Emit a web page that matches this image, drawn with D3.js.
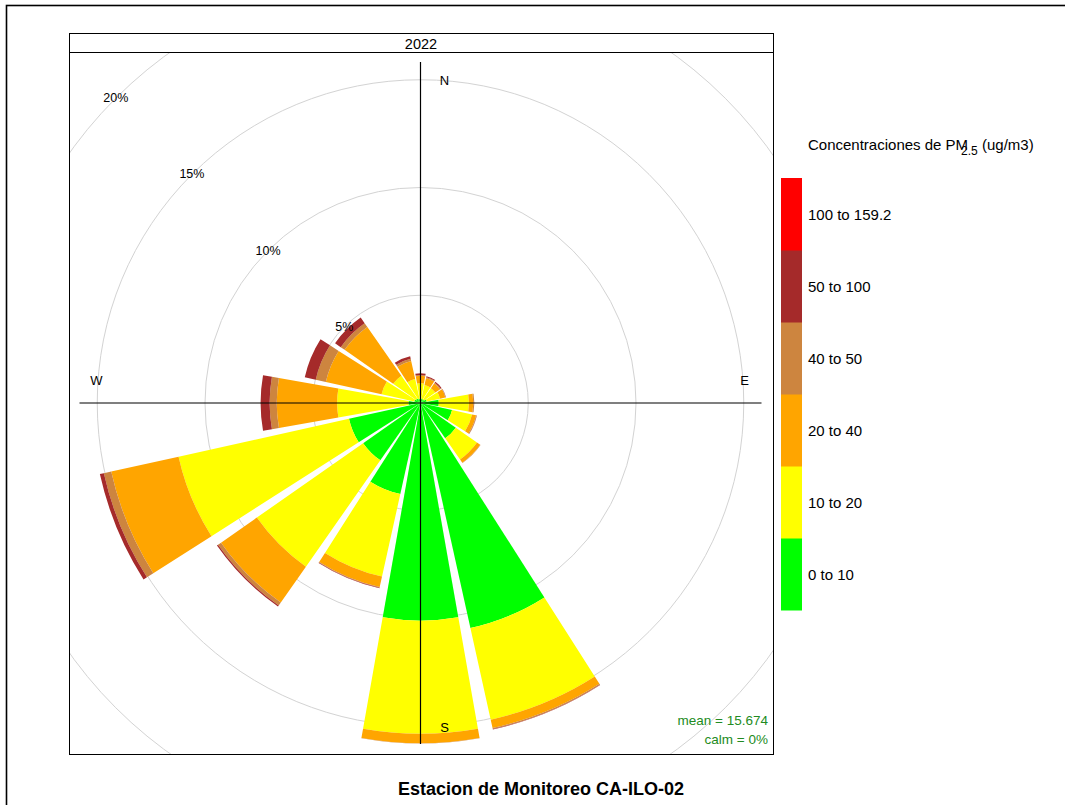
<!DOCTYPE html>
<html><head><meta charset="utf-8">
<script src="https://cdn.jsdelivr.net/npm/d3@7"></script>
<style>
body{margin:0;background:#fff}
svg{display:block;font-family:"Liberation Sans",Arial,Helvetica,sans-serif}
</style>
</head><body>
<svg id="chart" width="1065" height="805"></svg>
<script>
// ---- data ----
const directions = ["N","NNE","NE","ENE","E","ESE","SE","SSE","S","SSW","SW","WSW","W","WNW","NW","NNW"];
const dirAngles = [0,22.5,45,67.5,90,112.5,135,157.5,180,202.5,225,247.5,270,292.5,315,337.5];
const binLabels = ["0 to 10","10 to 20","20 to 40","40 to 50","50 to 100","100 to 159.2"];
const binColors = ["#00FF00","#FFFF00","#FFA500","#CD853F","#A52A2A","#FF0000"];
// frequency (%) of each concentration bin per direction
const bin0to10   = [0.17,0.20,0.20,0.30,0.85,1.50,2.00,10.70,10.10,4.33,3.25,3.40,0.56,0.30,0.25,0.20];
const bin10to20  = [0.75,0.65,0.64,0.63,1.40,0.95,1.20, 4.35, 5.25,3.92,6.02,8.10,3.31,1.55,1.30,0.94];
const bin20to40  = [0.34,0.33,0.26,0.25,0.20,0.19,0.18, 0.40, 0.44,0.50,2.03,3.20,2.80,2.65,2.75,0.86];
const bin40to50  = [0.04,0.04,0.05,0.02,0.05,0.03,0.02, 0.05, 0.01,0.03,0.17,0.35,0.33,0.48,0.22,0.10];
const bin50to100 = [0.08,0.05,0.05,0.01,0.00,0.01,0.00, 0.02, 0.00,0.02,0.06,0.19,0.42,0.52,0.32,0.12];
const bin100to159= [0,0,0,0,0,0,0,0,0,0,0,0,0,0,0,0];
const gridPct = [5,10,15,20];
const compass = [{t:"N",a:0},{t:"E",a:90},{t:"S",a:180},{t:"W",a:270}];
const stripLabel = "2022";
const meanText = "mean = 15.674";
const calmText = "calm = 0%";
const titleText = "Estacion de Monitoreo CA-ILO-02";

// ---- layout ----
const svg = d3.select("#chart");
const cx = 420.5, cy = 403;
const panel = {x:69, y:52, w:704, h:702, stripTop:33};
const r = d3.scaleLinear().domain([0,20]).range([0,431]);
const rad = d => d*Math.PI/180;

// outer frame
svg.append("rect").attr("x",6.5).attr("y",5.5).attr("width",1200).attr("height",1000)
  .attr("fill","none").attr("stroke","#000").attr("stroke-width",1.6);

svg.append("defs").append("clipPath").attr("id","clip")
  .append("rect").attr("x",panel.x).attr("y",panel.y).attr("width",panel.w).attr("height",panel.h);

const g = svg.append("g").attr("clip-path","url(#clip)");
const c = g.append("g").attr("transform",`translate(${cx},${cy})`);

// grid circles
c.selectAll("circle.grid").data(gridPct).join("circle")
  .attr("r",d=>r(d)).attr("fill","none").attr("stroke","#d3d3d3").attr("stroke-width",1);

// stacked wedges
const bins = [bin0to10,bin10to20,bin20to40,bin40to50,bin50to100,bin100to159];
const arc = d3.arc();
const wedges = [];
directions.forEach((d,i)=>{
  let cum = 0;
  bins.forEach((b,j)=>{
    const v = b[i];
    if (v>0) wedges.push({a:dirAngles[i], r0:cum, r1:cum+v, color:binColors[j]});
    cum += v;
  });
});
c.selectAll("path.w").data(wedges).join("path")
  .attr("d",d=>arc({innerRadius:r(d.r0),outerRadius:r(d.r1),startAngle:rad(d.a-10),endAngle:rad(d.a+10)}))
  .attr("fill",d=>d.color);

// axis lines
const axLen = 341;
c.append("line").attr("x1",0).attr("x2",0).attr("y1",-axLen).attr("y2",axLen).attr("stroke","#000").attr("stroke-width",1.2);
c.append("line").attr("y1",0).attr("y2",0).attr("x1",-axLen).attr("x2",axLen).attr("stroke","#000").attr("stroke-width",1.2);

// percentage labels along 315 deg
c.selectAll("text.pct").data(gridPct).join("text")
  .attr("x",d=>r(d)*Math.sin(rad(315))).attr("y",d=>-r(d)*Math.cos(rad(315)))
  .attr("text-anchor","middle").attr("dominant-baseline","central")
  .attr("font-size",12.5).text(d=>d+"%");

// compass labels
const compPos = {N:[24,-323],E:[324,-23],S:[24,324],W:[-324,-23]};
c.selectAll("text.cmp").data(compass).join("text")
  .attr("x",d=>compPos[d.t][0]).attr("y",d=>compPos[d.t][1])
  .attr("text-anchor","middle").attr("dominant-baseline","central")
  .attr("font-size",13).text(d=>d.t);

// mean/calm
svg.append("text").attr("x",768).attr("y",725).attr("text-anchor","end").attr("font-size",13.5)
  .attr("fill","#228B22").text(meanText);
svg.append("text").attr("x",768).attr("y",744).attr("text-anchor","end").attr("font-size",13.5)
  .attr("fill","#228B22").text(calmText);

// panel border & strip
svg.append("rect").attr("x",panel.x+0.5).attr("y",panel.stripTop+0.5).attr("width",panel.w).attr("height",panel.y+panel.h-panel.stripTop)
  .attr("fill","none").attr("stroke","#000").attr("stroke-width",1);
svg.append("line").attr("x1",panel.x).attr("x2",panel.x+panel.w).attr("y1",panel.y+0.5).attr("y2",panel.y+0.5)
  .attr("stroke","#000").attr("stroke-width",1);
svg.append("text").attr("x",panel.x+panel.w/2).attr("y",(panel.stripTop+panel.y)/2+1).attr("text-anchor","middle")
  .attr("dominant-baseline","central").attr("font-size",14.5).text(stripLabel);

// legend
const legTitle = svg.append("text").attr("x",808).attr("y",150).attr("font-size",15);
legTitle.append("tspan").text("Concentraciones de PM");
legTitle.append("tspan").attr("dx",-7).attr("dy",5).attr("font-size",12).text("2.5");
legTitle.append("tspan").attr("dy",-5).text(" (ug/m3)");

const ly = d3.scaleBand().domain(d3.range(binLabels.length).reverse()).range([178,610]);
svg.selectAll("rect.leg").data(d3.range(binLabels.length)).join("rect")
  .attr("x",781).attr("y",d=>ly(d)).attr("width",21).attr("height",ly.bandwidth()+0.5)
  .attr("fill",d=>binColors[d]);
svg.selectAll("text.leg").data(d3.range(binLabels.length)).join("text")
  .attr("x",808).attr("y",d=>ly(d)+ly.bandwidth()/2).attr("dominant-baseline","central")
  .attr("font-size",15).text(d=>binLabels[d]);

// title
svg.append("text").attr("x",541).attr("y",795).attr("text-anchor","middle").attr("font-size",18)
  .attr("font-weight","bold").text(titleText);
</script>
</body></html>
